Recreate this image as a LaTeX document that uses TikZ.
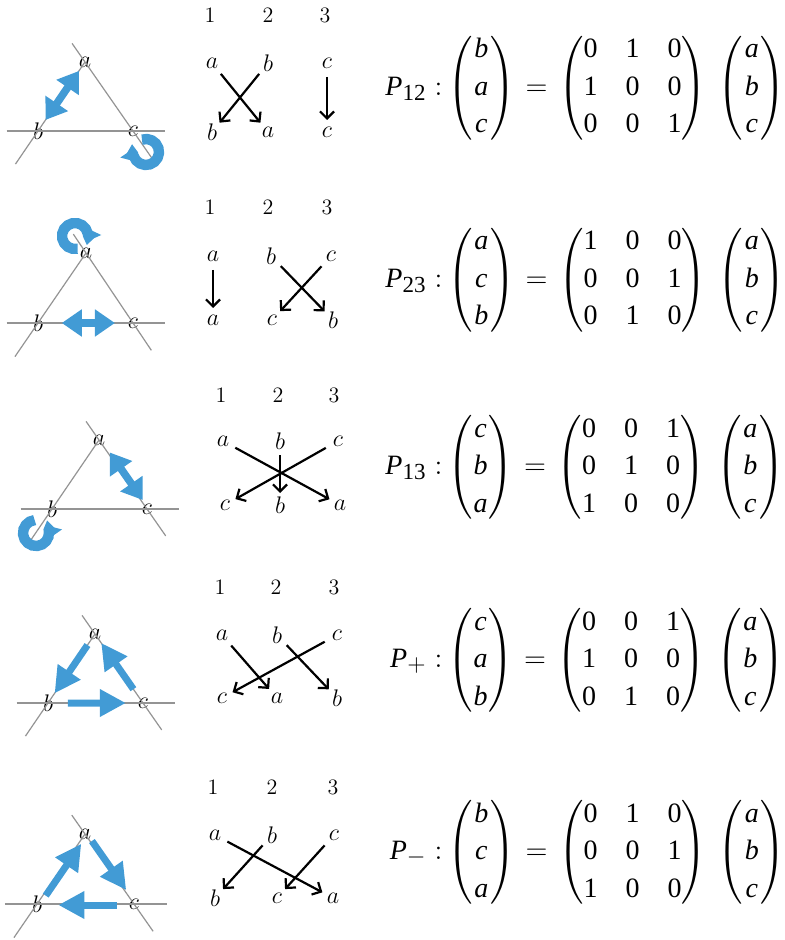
\documentclass[tikz,border=0pt]{standalone}
\usepackage{amsmath}
\usepackage{fontspec}
\newfontfamily\timesfont{Liberation Serif}
\usetikzlibrary{arrows.meta,calc}
\definecolor{flipblue}{RGB}{66,155,213}

\newcommand{\mvar}[1]{\text{\timesfont\itshape #1}}
\newcommand{\mnum}[1]{\text{\timesfont #1}}
\newcommand{\msub}[1]{\mbox{\timesfont\fontsize{11.5}{13}\selectfont #1}}
\newcommand{\colvec}[3]{\begin{pmatrix}\hspace{1pt}\mvar{#1}\hspace{1pt}\\\mvar{#2}\\\mvar{#3}\end{pmatrix}}
\newcommand{\permmat}[9]{\begin{pmatrix}\mnum{#1}&\mnum{#2}&\mnum{#3}\\\mnum{#4}&\mnum{#5}&\mnum{#6}\\\mnum{#7}&\mnum{#8}&\mnum{#9}\end{pmatrix}}

\tikzset{
  lbl/.style={inner sep=0pt, font=\fontsize{12}{14}\selectfont},
  num/.style={inner sep=0pt, font=\fontsize{11}{13}\selectfont},
  tline/.style={draw=black!42, line width=0.6pt},
  swap/.style={flipblue, line width=3.8pt, {Triangle[length=10pt,width=13pt]}-{Triangle[length=10pt,width=13pt]}},
  cyc/.style={flipblue, line width=3.5pt, -{Triangle[length=13pt,width=13pt]}},
  fix/.style={flipblue, line width=5.2pt, -{Triangle[length=6pt,width=10pt]}},
  perm/.style={line width=1.1pt, -{Straight Barb[length=3.5pt,width=7pt]}, shorten <=7pt, shorten >=6pt},
  eqn/.style={anchor=west, inner sep=0pt, font=\fontsize{14}{18.75}\selectfont\setlength{\arraycolsep}{7pt}}
}

\begin{document}
\begin{tikzpicture}[x=0.5pt, y=-0.5pt]
  \useasboundingbox (0,0) rectangle (785,940);

  \node[lbl] (a1) at (85,62) {$a$};
  \node[lbl] (b1) at (38,131) {$b$};
  \node[lbl] (c1) at (133,131) {$c$};
  \draw[tline] ($(a1)!-0.27!(c1)$) -- ($(c1)!-0.39!(a1)$);
  \draw[tline] (a1.center) -- ($(b1)!-0.48!(a1)$);
  \draw[tline] ($(b1)!-0.33!(c1)$) -- ($(c1)!-0.34!(b1)$);
  \draw[swap] ($(b1)!0.16!(a1)$) -- ($(b1)!0.87!(a1)$);
  \draw[fix] ($(c1)+(13,21)$) ++(108:6.5pt) arc[start angle=108, end angle=-195, radius=6.5pt];

  \node[num] (n11) at (210,15) {1};
  \node[num] (n12) at (268,15) {2};
  \node[num] (n13) at (325,15) {3};
  \node[lbl] (t1a) at (212,63) {$a$};
  \node[lbl] (t1b) at (268,63) {$b$};
  \node[lbl] (t1c) at (327,63) {$c$};
  \node[lbl] (u1b) at (212,132) {$b$};
  \node[lbl] (u1a) at (268,132) {$a$};
  \node[lbl] (u1c) at (327,132) {$c$};
  \draw[perm] (t1a.center) -- (u1a.center);
  \draw[perm] (t1b.center) -- (u1b.center);
  \draw[perm] (t1c.center) -- (u1c.center);

  \node[eqn] (m1) at (442,88) {$\llap{$\mvar{P}_{\msub{12}}:$}\colvec{b}{a}{c}\hspace{1pt}=\hspace{1.5pt}\permmat{0}{1}{0}{1}{0}{0}{0}{0}{1}\hspace{3pt}\colvec{a}{b}{c}$};

  \node[lbl] (a2) at (86,253) {$a$};
  \node[lbl] (b2) at (38,323) {$b$};
  \node[lbl] (c2) at (133,323) {$c$};
  \draw[tline] ($(a2)!-0.27!(c2)$) -- ($(c2)!-0.39!(a2)$);
  \draw[tline] (a2.center) -- ($(b2)!-0.48!(a2)$);
  \draw[tline] ($(b2)!-0.33!(c2)$) -- ($(c2)!-0.34!(b2)$);
  \draw[swap] ($(b2)!0.25!(c2)$) -- ($(b2)!0.81!(c2)$);
  \draw[fix] ($(a2)+(-11,-17)$) ++(-78:6.5pt) arc[start angle=-78, end angle=-385, radius=6.5pt];

  \node[num] (n21) at (210,207) {1};
  \node[num] (n22) at (268,207) {2};
  \node[num] (n23) at (327,207) {3};
  \node[lbl] (t2a) at (213,256) {$a$};
  \node[lbl] (t2b) at (271,256) {$b$};
  \node[lbl] (t2c) at (331,256) {$c$};
  \node[lbl] (u2a) at (213,320) {$a$};
  \node[lbl] (u2c) at (272,320) {$c$};
  \node[lbl] (u2b) at (333,320) {$b$};
  \draw[perm] (t2a.center) -- (u2a.center);
  \draw[perm] (t2b.center) -- (u2b.center);
  \draw[perm] (t2c.center) -- (u2c.center);

  \node[eqn] (m2) at (442,280) {$\llap{$\mvar{P}_{\msub{23}}:$}\colvec{a}{c}{b}\hspace{1pt}=\hspace{1.5pt}\permmat{1}{0}{0}{0}{0}{1}{0}{1}{0}\hspace{3pt}\colvec{a}{b}{c}$};

  \node[lbl] (a3) at (99,440) {$a$};
  \node[lbl] (b3) at (52,509) {$b$};
  \node[lbl] (c3) at (147,509) {$c$};
  \draw[tline] ($(a3)!-0.27!(c3)$) -- ($(c3)!-0.39!(a3)$);
  \draw[tline] (a3.center) -- ($(b3)!-0.48!(a3)$);
  \draw[tline] ($(b3)!-0.33!(c3)$) -- ($(c3)!-0.34!(b3)$);
  \draw[swap] ($(a3)!0.18!(c3)+(2,0)$) -- ($(a3)!0.87!(c3)+(2,0)$);
  \draw[fix] ($(b3)+(-16,24)$) ++(96:6.5pt) arc[start angle=96, end angle=395, radius=6.5pt];

  \node[num] (n31) at (221,395) {1};
  \node[num] (n32) at (278,395) {2};
  \node[num] (n33) at (334,395) {3};
  \node[lbl] (t3a) at (223,441) {$a$};
  \node[lbl] (t3b) at (280,441) {$b$};
  \node[lbl] (t3c) at (338,441) {$c$};
  \node[lbl] (u3c) at (225,505) {$c$};
  \node[lbl] (u3b) at (280,505) {$b$};
  \node[lbl] (u3a) at (340,505) {$a$};
  \draw[perm] (t3a.center) -- (u3a.center);
  \draw[perm] (t3b.center) -- (u3b.center);
  \draw[perm] (t3c.center) -- (u3c.center);

  \node[eqn] (m3) at (442,467) {$\llap{$\mvar{P}_{\msub{13}}:$}\colvec{c}{b}{a}\hspace{1pt}=\hspace{1.5pt}\permmat{0}{0}{1}{0}{1}{0}{1}{0}{0}\hspace{3pt}\colvec{a}{b}{c}$};

  \node[lbl] (a4) at (95,634) {$a$};
  \node[lbl] (b4) at (48,703) {$b$};
  \node[lbl] (c4) at (143,703) {$c$};
  \draw[tline] ($(a4)!-0.27!(c4)$) -- ($(c4)!-0.39!(a4)$);
  \draw[tline] (a4.center) -- ($(b4)!-0.48!(a4)$);
  \draw[tline] ($(b4)!-0.33!(c4)$) -- ($(c4)!-0.34!(b4)$);
  \draw[cyc] ($(a4)!0.16!(b4)$) -- ($(a4)!0.86!(b4)$);
  \draw[cyc] ($(b4)!0.21!(c4)$) -- ($(b4)!0.82!(c4)$);
  \draw[cyc] ($(c4)!0.2!(a4)$) -- ($(c4)!0.87!(a4)$);

  \node[num] (n41) at (220,587) {1};
  \node[num] (n42) at (276,587) {2};
  \node[num] (n43) at (334,587) {3};
  \node[lbl] (t4a) at (222,635) {$a$};
  \node[lbl] (t4b) at (277,635) {$b$};
  \node[lbl] (t4c) at (337,635) {$c$};
  \node[lbl] (u4c) at (222,698) {$c$};
  \node[lbl] (u4a) at (277,698) {$a$};
  \node[lbl] (u4b) at (337,698) {$b$};
  \draw[perm] (t4a.center) -- (u4a.center);
  \draw[perm] (t4b.center) -- (u4b.center);
  \draw[perm] (t4c.center) -- (u4c.center);

  \node[eqn] (m4) at (442,660) {$\llap{$\mvar{P}_{\msub{$+$}}:$}\colvec{c}{a}{b}\hspace{1pt}=\hspace{1.5pt}\permmat{0}{0}{1}{1}{0}{0}{0}{1}{0}\hspace{3pt}\colvec{a}{b}{c}$};

  \node[lbl] (a5) at (85,834) {$a$};
  \node[lbl] (b5) at (37,904) {$b$};
  \node[lbl] (c5) at (134,904) {$c$};
  \draw[tline] ($(a5)!-0.27!(c5)$) -- ($(c5)!-0.39!(a5)$);
  \draw[tline] (a5.center) -- ($(b5)!-0.48!(a5)$);
  \draw[tline] ($(b5)!-0.33!(c5)$) -- ($(c5)!-0.34!(b5)$);
  \draw[cyc] ($(b5)!0.12!(a5)+(3,0)$) -- ($(b5)!0.86!(a5)+(3,0)$);
  \draw[cyc] ($(a5)!0.1!(c5)+(2,0)$) -- ($(a5)!0.8!(c5)+(2,0)$);
  \draw[cyc] ($(c5)!0.18!(b5)+(0,1)$) -- ($(c5)!0.78!(b5)+(0,1)$);

  \node[num] (n51) at (213,787) {1};
  \node[num] (n52) at (272,787) {2};
  \node[num] (n53) at (333,787) {3};
  \node[lbl] (t5a) at (215,835) {$a$};
  \node[lbl] (t5b) at (272,835) {$b$};
  \node[lbl] (t5c) at (334,835) {$c$};
  \node[lbl] (u5b) at (215,898) {$b$};
  \node[lbl] (u5c) at (277,898) {$c$};
  \node[lbl] (u5a) at (333,898) {$a$};
  \draw[perm] (t5a.center) -- (u5a.center);
  \draw[perm] (t5b.center) -- (u5b.center);
  \draw[perm] (t5c.center) -- (u5c.center);

  \node[eqn] (m5) at (442,852) {$\llap{$\mvar{P}_{\msub{$-$}}:$}\colvec{b}{c}{a}\hspace{1pt}=\hspace{1.5pt}\permmat{0}{1}{0}{0}{0}{1}{1}{0}{0}\hspace{3pt}\colvec{a}{b}{c}$};
\end{tikzpicture}
\end{document}
